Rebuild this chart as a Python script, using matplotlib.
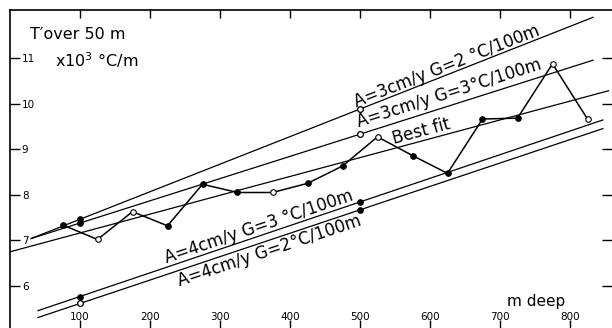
import numpy as np
import matplotlib.pyplot as plt

# T' measured over 50 m intervals (x10^3 degC/m) against depth (m)
depth = [75, 125, 175, 225, 275, 325, 375, 425, 475, 525, 575, 625, 675, 725, 775, 825]
tgrad = [7.34, 7.02, 7.63, 7.32, 8.23, 8.05, 8.05, 8.25, 8.63, 9.27, 8.86, 8.47, 9.66, 9.68, 10.87, 9.66]
filled = [1, 0, 0, 1, 1, 1, 0, 1, 1, 0, 1, 1, 1, 1, 0, 0]

# model lines, end points
a3g2_x = [30, 833]
a3g2_y = [7.04, 11.89]
a3g3_x = [30, 833]
a3g3_y = [7.04, 10.95]
a4g3_x = [40, 847]
a4g3_y = [5.46, 9.64]
a4g2_x = [40, 847]
a4g2_y = [5.31, 9.45]
fit_x = [0, 855]
fit_y = [6.75, 10.28]

# computed points marked at 100 m and 500 m
pt_depth = [100, 500]
a3g2_pts = [7.46, 9.875]
a3g3_pts = [7.38, 9.33]
a4g3_pts = [5.77, 7.84]
a4g2_pts = [5.62, 7.67]

fig = plt.figure(figsize=(6.12, 3.28), dpi=100)
ax = fig.add_axes([10/612, 0, 602/612, 318/328])
ax.set_xlim(0, 860)
ax.set_ylim(5.08, 12.05)

for s in ['bottom', 'right']:
    ax.spines[s].set_visible(False)
for s in ['top', 'left']:
    ax.spines[s].set_linewidth(1.2)

ax.set_xticks([100, 200, 300, 400, 500, 600, 700, 800])
ax.set_yticks([6, 7, 8, 9, 10, 11])
ax.tick_params(axis='x', direction='in', length=6, width=1, labelsize=7.5, pad=-11.5, top=True)
ax.tick_params(axis='y', direction='in', length=7, width=1, labelsize=7.5, pad=-8.5, right=True)
for lab in ax.get_yticklabels():
    lab.set_ha('left')

lw = 0.9
ax.plot(a3g2_x, a3g2_y, color='k', lw=lw)
ax.plot(a3g3_x, a3g3_y, color='k', lw=lw)
ax.plot(a4g3_x, a4g3_y, color='k', lw=lw)
ax.plot(a4g2_x, a4g2_y, color='k', lw=lw)
ax.plot(fit_x, fit_y, color='k', lw=lw)

ax.plot(pt_depth, a3g2_pts, 'o', ms=4, mew=0.8, mec='k', color='k')
ax.plot(pt_depth[1], a3g2_pts[1], 'o', ms=4, mew=0.8, mec='k', mfc='white')
ax.plot(pt_depth, a3g3_pts, 'o', ms=4, mew=0.8, mec='k', color='k')
ax.plot(pt_depth[1], a3g3_pts[1], 'o', ms=4, mew=0.8, mec='k', mfc='white')
ax.plot(pt_depth, a4g3_pts, 'o', ms=4, mew=0.8, mec='k', color='k')
ax.plot(pt_depth, a4g2_pts, 'o', ms=4, mew=0.8, mec='k', color='k')
ax.plot(pt_depth[0], a4g2_pts[0], 'o', ms=4, mew=0.8, mec='k', mfc='white')

# observed zigzag
ax.plot(depth, tgrad, color='k', lw=1.1)
for d, t, f in zip(depth, tgrad, filled):
    ax.plot(d, t, 'o', ms=4, mew=0.8, mec='k', mfc='k' if f else 'white')


def line_label(txt, x0, xs, ys, off, size=12):
    y0 = np.interp(x0, xs, ys)
    p1 = ax.transData.transform((xs[0], ys[0]))
    p2 = ax.transData.transform((xs[1], ys[1]))
    ang = np.degrees(np.arctan2(p2[1] - p1[1], p2[0] - p1[0]))
    t = np.radians(ang)
    ax.annotate(txt, (x0, y0), xytext=(-np.sin(t)*off, np.cos(t)*off),
                textcoords='offset pixels', rotation=ang, rotation_mode='anchor',
                ha='left', va='baseline', fontsize=size)


line_label('A=3cm/y G=2 °C/100m', 497, a3g2_x, a3g2_y, 3)
line_label('A=3cm/y G=3°C/100m', 502, a3g3_x, a3g3_y, 7)
line_label('Best fit', 550, fit_x, fit_y, 4)
line_label('A=4cm/y G=3 °C/100m', 226, a4g3_x, a4g3_y, 4)
line_label('A=4cm/y G=2°C/100m', 236, a4g2_x, a4g2_y, -15)

ax.text(28.6, 11.42, 'T\u2032over 50 m', fontsize=11.5, va='baseline')
ax.text(64, 10.80, 'x10$^3$ °C/m', fontsize=11.5, va='baseline')
ax.text(710, 5.56, 'm deep', fontsize=11, va='baseline')

fig.savefig('out.png', dpi=100)
